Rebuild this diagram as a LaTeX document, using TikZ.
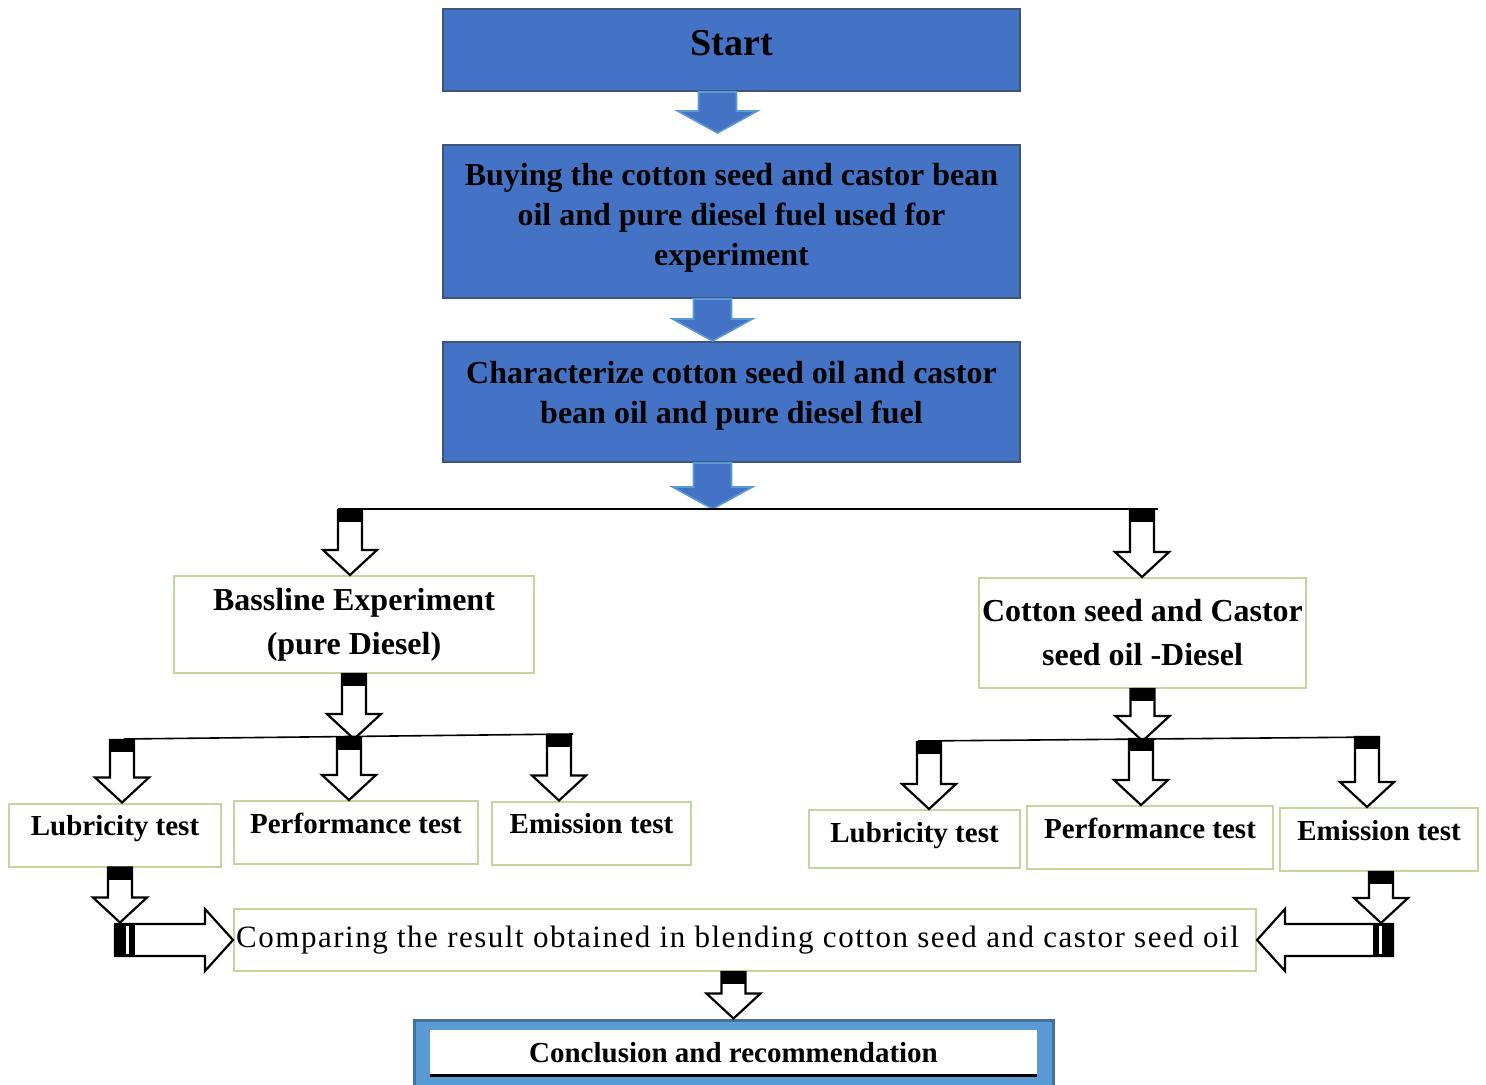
\documentclass[tikz,border=0pt]{standalone}
\usepackage{fontspec}
\setmainfont{Liberation Serif}
\usepackage{tikz}
\usetikzlibrary{calc, positioning}

\definecolor{boxblue}{HTML}{4472C4}
\definecolor{boxedge}{HTML}{3E5479}
\definecolor{arrowedge}{HTML}{5B9BD5}
\definecolor{greenedge}{HTML}{C3D69B}
\definecolor{conclfill}{HTML}{5B9BD5}
\definecolor{concledge}{HTML}{41719C}

\tikzset{
  bluebox/.style={draw=boxedge, fill=boxblue, line width=1pt, inner sep=0pt,
    minimum width=288.5pt, align=center, font=\bfseries\fontsize{16}{20}\selectfont},
  greenbox/.style={draw=greenedge, line width=1pt, inner sep=0pt, align=center,
    font=\bfseries\fontsize{16}{22}\selectfont},
  testbox/.style={draw=greenedge, line width=1pt, inner sep=0pt,
    text height=16pt, text depth=15.5pt, font=\bfseries\fontsize{14.5}{17}\selectfont},
  busline/.style={line width=0.8pt}
}

% blue block arrow: start, tip
\newcommand{\bluedown}[2]{%
  \draw[draw=arrowedge, fill=boxblue, line width=0.8pt]
    ($(#1)+(-19,0)$) -- ($(#2)+(-19,-22)$) -- ($(#2)+(-40,-22)$) -- (#2)
    -- ($(#2)+(40,-22)$) -- ($(#2)+(19,-22)$) -- ($(#1)+(19,0)$) -- cycle;}

% white block arrow with black cap: start, tip
\newcommand{\whitedown}[2]{%
  \draw[fill=white, line width=1.1pt]
    ($(#1)+(-12,0)$) -- ($(#2)+(-12,-25)$) -- ($(#2)+(-27,-25)$) -- (#2)
    -- ($(#2)+(27,-25)$) -- ($(#2)+(12,-25)$) -- ($(#1)+(12,0)$) -- cycle;
  \fill ($(#1)+(-12,0)$) rectangle ($(#1)+(12,12)$);}

% white side arrow: tail, tip, direction (1 right, -1 left)
\newcommand{\whiteside}[3]{%
  \draw[fill=white, line width=1.1pt]
    ($(#1)+(0,-16)$) -- ($(#2)+(-28*#3,-16)$) -- ($(#2)+(-28*#3,-31)$) -- (#2)
    -- ($(#2)+(-28*#3,31)$) -- ($(#2)+(-28*#3,16)$) -- ($(#1)+(0,16)$) -- cycle;
  \fill ($(#1)+(0,-16)$) rectangle ($(#1)+(20*#3,16)$);
  \fill[white] ($(#1)+(11*#3,-14)$) rectangle ($(#1)+(14*#3,14)$);}

\begin{document}
\begin{tikzpicture}[x=0.5pt, y=-0.5pt]
    \useasboundingbox (0,0) rectangle (1486,1085);

    % 1. Blue boxes at the top
    \node[bluebox, text height=23.3pt, text depth=17.7pt,
        font=\bfseries\fontsize{19}{22}\selectfont] (start) at (731.5,50) {Start};
    \node[bluebox, minimum height=76.5pt] (buy) at (731.5,221.5)
        {Buying the cotton seed and castor bean\\ oil and pure diesel fuel used for\\ experiment\\[-13pt]};
    \node[bluebox, minimum height=60pt] (char) at (731.5,402)
        {Characterize cotton seed oil and castor\\ bean oil and pure diesel fuel\\[-10.5pt]};

    % 2. Two branches
    \node[greenbox, minimum width=180pt, minimum height=48.5pt] (bass) at (354,624.5)
        {Bassline Experiment\\ (pure Diesel)};
    \node[greenbox, minimum width=163.5pt, minimum height=55pt] (cot) at (1142.5,633)
        {Cotton seed and Castor\\ seed oil -Diesel};

    % 3. Test boxes
    \node[testbox, minimum width=106pt] (lubL) at (115,835) {Lubricity test};
    \node[testbox, minimum width=122pt] (perfL) at (356,832.5) {Performance test};
    \node[testbox, minimum width=99.5pt] (emiL) at (591.5,833) {Emission test};
    \node[testbox, minimum width=105.5pt, text depth=13pt] (lubR) at (914.5,839) {Lubricity test};
    \node[testbox, minimum width=123pt] (perfR) at (1150,837.5) {Performance test};
    \node[testbox, minimum width=99pt] (emiR) at (1379,839.5) {Emission test};

    % 4. Comparing and conclusion
    \node[draw=greenedge, line width=1pt, inner sep=0pt, minimum width=511pt, minimum height=31pt,
        font=\fontsize{15.5}{18}\selectfont\addfontfeatures{LetterSpace=4.9}] (comp) at (745,940)
        {Comparing the result obtained in blending cotton seed and castor seed oil\hspace*{7.5pt}};
    \node[draw=concledge, fill=conclfill, line width=1.5pt, minimum width=319.5pt, minimum height=34pt] (concl) at (733.5,1054) {};
    \node[fill=white, inner sep=0pt, minimum width=303.5pt, minimum height=22.5pt,
        font=\bfseries\fontsize{14.5}{17}\selectfont] (conclin) at (733.5,1052.5) {Conclusion and recommendation};
    \draw[line width=1.5pt] (conclin.south west) -- (conclin.south east);

    % 5. Blue arrows
    \coordinate (a1) at ($(start.south)+(-14,0)$);
    \coordinate (a1e) at ($(a1 |- buy.north)+(0,-11)$);
    \bluedown{a1}{a1e}
    \coordinate (a2) at ($(buy.south)+(-19,0)$);
    \bluedown{a2}{a2 |- char.north}
    \coordinate (a3) at ($(char.south)+(-19,0)$);
    \coordinate (busL) at (338,509);
    \coordinate (busR) at (1158,509);
    \bluedown{a3}{a3 |- busL}
    \draw[busline] (busL) -- (busR);

    % 6. White arrows to the branches
    \coordinate (t1) at (350,510);
    \coordinate (t2) at (1142,510);
    \whitedown{t1}{t1 |- bass.north}
    \whitedown{t2}{t2 |- cot.north}

    % 7. Left tests
    \coordinate (lbA) at (124,739);
    \coordinate (lbB) at (573,734);
    \coordinate (lb1) at (122,740);
    \coordinate (lb2) at (349,738);
    \coordinate (lb3) at (559,735);
    \whitedown{bass.south}{bass.south |- lbA}
    \draw[busline] (lbA) -- (lbB);
    \whitedown{lb1}{lb1 |- lubL.north}
    \whitedown{lb2}{lb2 |- perfL.north}
    \whitedown{lb3}{lb3 |- emiL.north}

    % 8. Right tests
    \coordinate (rbA) at (918,741);
    \coordinate (rbB) at (1380,737);
    \coordinate (rb1) at (929,742);
    \coordinate (rb2) at (1141,739);
    \coordinate (rb3) at (1367,737);
    \whitedown{cot.south}{cot.south |- rbA}
    \draw[busline] (rbA) -- (rbB);
    \whitedown{rb1}{rb1 |- lubR.north}
    \whitedown{rb2}{rb2 |- perfR.north}
    \whitedown{rb3}{rb3 |- emiR.north}

    % 9. Into the comparison and the conclusion
    \coordinate (dL) at ($(lubL.south)+(5,0)$);
    \coordinate (dR) at ($(emiR.south)+(2,0)$);
    \coordinate (tipL) at ($(dL)+(0,55)$);
    \coordinate (tipR) at ($(dR)+(0,51)$);
    \whitedown{dL}{tipL}
    \whitedown{dR}{tipR}
    \coordinate (tailL) at (115,940);
    \coordinate (tailR) at (1393,940);
    \whiteside{tailL}{comp.west}{1}
    \whiteside{tailR}{comp.east}{-1}
    \coordinate (c1) at (concl.north |- comp.south);
    \whitedown{c1}{concl.north}
\end{tikzpicture}
\end{document}
